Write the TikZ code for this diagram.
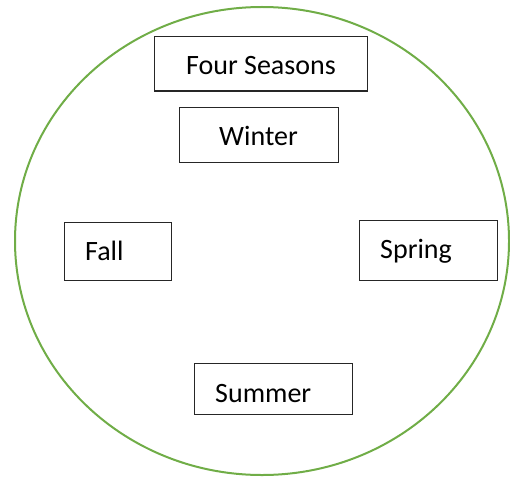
\documentclass[tikz,border=0pt]{standalone}
\usepackage{fontspec}
\setmainfont{Carlito}
\definecolor{ringgreen}{HTML}{70AD47}
\tikzset{
  seasonbox/.style={draw=black!85, line width=1pt, rectangle, inner sep=0pt},
  seasonlabel/.style={inner sep=0pt, font=\fontsize{28}{34}\selectfont},
}
\begin{document}
\begin{tikzpicture}[x=1pt,y=-1pt]
  \useasboundingbox (0,0) rectangle (510,476);
  % Outer ring
  \draw[ringgreen, line width=2pt] (262,241) ellipse [x radius=247, y radius=234];

  % Title and seasons
  \node[seasonbox, minimum width=213pt, minimum height=54pt] (fourbox) at (260.5,64) {};
  \node[seasonlabel, anchor=base] (fourtxt) at (261,75) {Four Seasons};

  \node[seasonbox, minimum width=159pt, minimum height=55pt] (winterbox) at (258.5,134.5) {};
  \node[seasonlabel, anchor=base] (wintertxt) at (258.5,145) {Winter};

  \node[seasonbox, minimum width=107pt, minimum height=58pt] (fallbox) at (117.5,251) {};
  \node[seasonlabel, anchor=base west] (falltxt) at (85,260) {Fall};

  \node[seasonbox, minimum width=138pt, minimum height=60pt] (springbox) at (428,250) {};
  \node[seasonlabel, anchor=base west] (springtxt) at (380,258) {Spring};

  \node[seasonbox, minimum width=158pt, minimum height=51pt] (summerbox) at (273,388.5) {};
  \node[seasonlabel, anchor=base west] (summertxt) at (215,402) {Summer};
\end{tikzpicture}
\end{document}
